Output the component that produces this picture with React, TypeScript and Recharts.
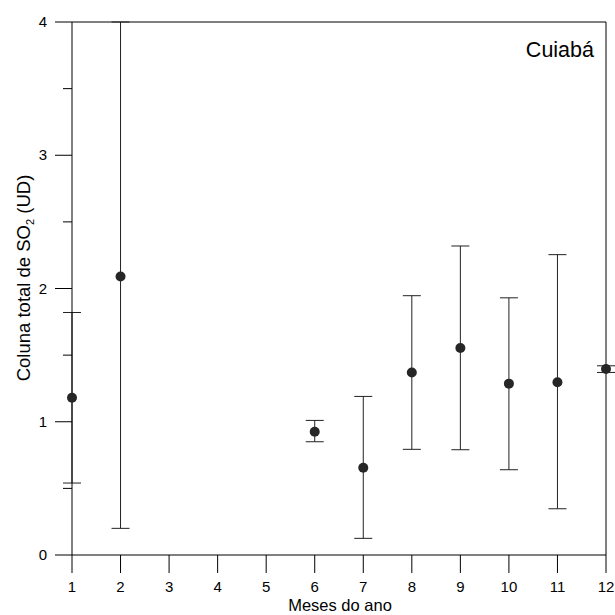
import React from "react";
import {
  ScatterChart,
  Scatter,
  XAxis,
  YAxis,
  ErrorBar,
  ReferenceLine,
  Label,
} from "recharts";

const FONT = "'Liberation Sans', Arial, sans-serif";

// monthly SO2 column (DU) for Cuiabá, with min/max range
const months = [1, 2, 6, 7, 8, 9, 10, 11, 12];
const means = [1.18, 2.09, 0.925, 0.655, 1.37, 1.553, 1.286, 1.296, 1.396];
const lows = [0.54, 0.2, 0.85, 0.125, 0.793, 0.79, 0.64, 0.347, 1.37];
const highs = [1.82, 4.0, 1.01, 1.19, 1.946, 2.319, 1.93, 2.254, 1.42];

const xTicks = [1, 2, 3, 4, 5, 6, 7, 8, 9, 10, 11, 12];
const yTicks = [0, 0.5, 1, 1.5, 2, 2.5, 3, 3.5, 4];

const data = months.map((m, i) => ({
  month: m,
  so2: means[i],
  err: [means[i] - lows[i], highs[i] - means[i]],
}));

const YTick = ({ x, y, payload }: any) => {
  const major = Number.isInteger(payload.value);
  return (
    <g>
      <line x1={x - (major ? 17 : 9)} x2={x} y1={y} y2={y} stroke="#000" />
      {major && (
        <text
          x={x - 25}
          y={y + 5}
          textAnchor="end"
          fontSize={15}
          fontFamily={FONT}
          fill="#000"
        >
          {payload.value}
        </text>
      )}
    </g>
  );
};

const XTick = ({ x, y, payload }: any) => (
  <g>
    <line x1={x} x2={x} y1={y} y2={y + 18} stroke="#000" />
    <text
      x={x}
      y={y + 37}
      textAnchor="middle"
      fontSize={15}
      fontFamily={FONT}
      fill="#000"
    >
      {payload.value}
    </text>
  </g>
);

const Dot = ({ cx, cy }: any) => <circle cx={cx} cy={cy} r={5} fill="#262626" />;

const YTitle = () => (
  <text
    transform="translate(30, 278) rotate(-90)"
    textAnchor="middle"
    fontSize={18.5}
    fontFamily={FONT}
    fill="#000"
  >
    Coluna total de SO
    <tspan fontSize={11} dy={4}>
      2
    </tspan>
    <tspan dy={-4}> (UD)</tspan>
  </text>
);

export default function App() {
  return (
    <div style={{ position: "absolute", left: 0, top: 0, background: "#fff" }}>
      <ScatterChart
        width={615}
        height={615}
        margin={{ top: 22, right: 9, bottom: 0, left: 0 }}
      >
        <XAxis
          type="number"
          dataKey="month"
          domain={[1, 12]}
          ticks={xTicks}
          interval={0}
          height={60}
          axisLine={{ stroke: "#000" }}
          tickLine={false}
          tickSize={0}
          tickMargin={0}
          tick={<XTick />}
        >
          <Label
            value="Meses do ano"
            position="insideBottom"
            offset={0}
            content={() => (
              <text
                x={340}
                y={611}
                textAnchor="middle"
                fontSize={16.5}
                fontFamily={FONT}
                fill="#000"
              >
                Meses do ano
              </text>
            )}
          />
        </XAxis>
        <YAxis
          type="number"
          dataKey="so2"
          domain={[0, 4]}
          ticks={yTicks}
          interval={0}
          width={72}
          axisLine={{ stroke: "#000" }}
          tickLine={false}
          tickSize={0}
          tickMargin={0}
          tick={<YTick />}
        >
          <Label content={() => <YTitle />} />
        </YAxis>
        <ReferenceLine y={4} stroke="#000" />
        <ReferenceLine x={12} stroke="#000" />
        <Scatter data={data} shape={<Dot />} isAnimationActive={false}>
          <ErrorBar
            dataKey="err"
            direction="y"
            width={9}
            stroke="#222"
            strokeWidth={1}
          />
        </Scatter>
        <text
          x={594}
          y={57}
          textAnchor="end"
          fontSize={21.5}
          fontFamily={FONT}
          fill="#000"
        >
          Cuiabá
        </text>
      </ScatterChart>
    </div>
  );
}
